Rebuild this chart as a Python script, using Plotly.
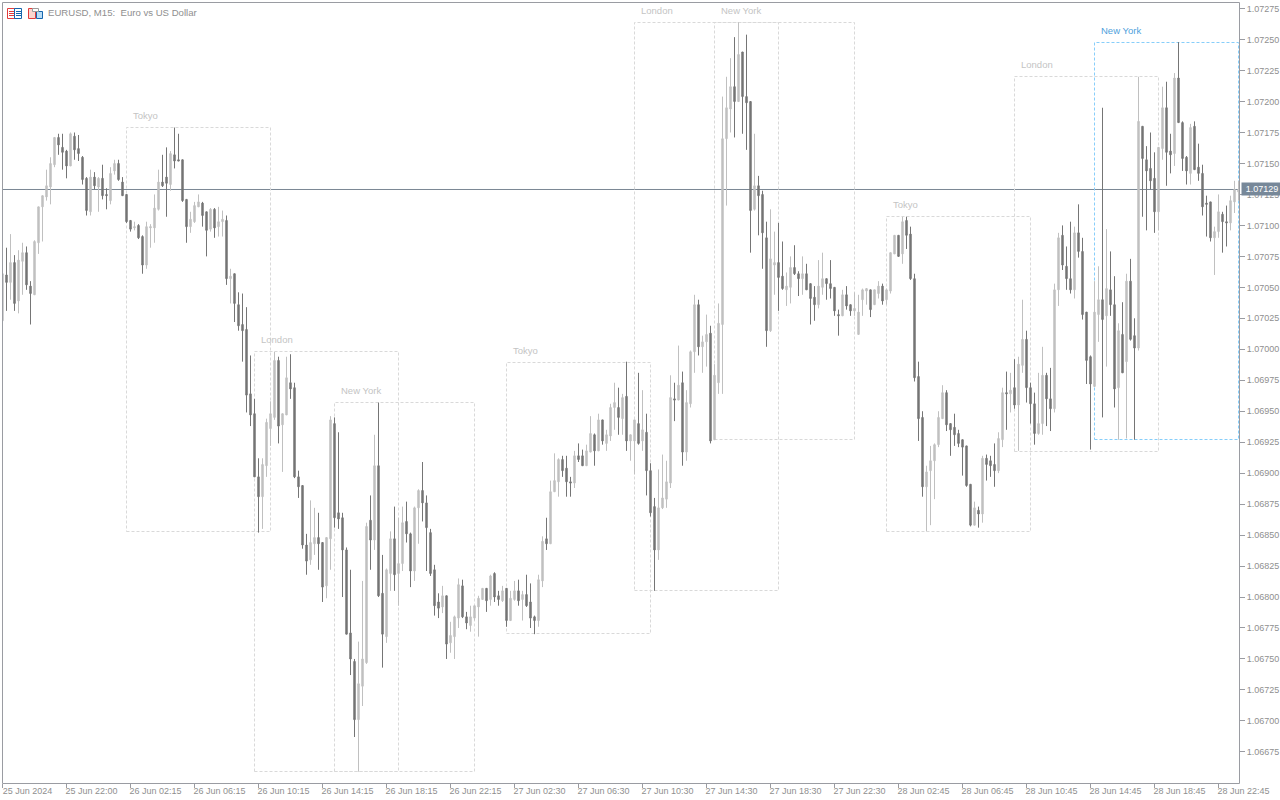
import plotly.graph_objects as go

# Prices are stored as points above 1.07000 (1 point = 0.00001)
open_pts = [
23,60,54,70,39,71,78,51,44,86,
115,123,131,149,171,163,160,148,172,162,
155,138,111,139,131,138,125,120,144,150,
135,125,104,98,100,91,68,98,98,113,
135,139,133,157,153,153,121,99,103,115,
118,111,97,113,99,103,104,57,61,36,
20,16,-36,-52,-103,-119,-94,-64,-55,-9,
-61,-53,-27,-31,-103,-110,-158,-170,-157,-152,
-156,-191,-153,-60,-132,-136,-162,-229,-252,-299,
-272,-253,-138,-154,-94,-197,-232,-181,-153,-181,
-173,-139,-149,-179,-128,-114,-124,-148,-178,-204,
-208,-199,-237,-232,-217,-191,-216,-223,-217,-208,
-202,-193,-202,-181,-199,-203,-193,-219,-202,-195,
-202,-198,-204,-216,-219,-187,-153,-157,-115,-107,
-89,-96,-107,-108,-86,-86,-94,-83,-69,-82,
-57,-76,-70,-47,-47,-56,-38,-74,-74,-60,
-74,-67,-98,-127,-162,-128,-121,-108,-40,-41,
-27,-83,-44,-2,36,2,6,13,-73,-27,
20,170,194,212,200,240,204,200,113,132,
125,90,15,68,70,59,48,50,66,61,
57,61,53,42,36,50,57,53,50,28,
27,44,36,31,12,40,47,48,36,45,
51,40,47,77,92,77,104,93,57,-22,
-55,-111,-98,-90,-77,-56,-35,-60,-63,-68,
-73,-78,-109,-142,-130,-133,-88,-90,-93,-98,
-73,-35,-36,-31,-45,-13,8,-31,-44,-68,
-60,-21,-40,-48,48,92,67,57,48,94,
79,30,-6,-30,28,40,27,48,36,-31,
12,-10,55,11,1,180,153,146,138,111,
162,195,160,158,219,183,155,142,180,147,
142,118,119,90,95,109,103,102,119,127]

high_pts = [
61,82,93,76,80,86,83,55,88,115,
124,145,155,171,174,174,161,175,175,173,
156,139,145,143,139,149,130,147,153,153,
139,125,104,103,101,92,103,101,125,145,
157,163,160,179,174,153,121,111,119,125,
119,111,114,114,115,112,108,65,61,46,
45,34,-5,-40,-88,-88,-56,-42,-2,-6,
-52,-6,-4,-27,-98,-110,-149,-122,-128,-132,
-156,-152,-54,-55,-67,-132,-160,-178,-250,-236,
-187,-140,-118,-69,-43,-166,-177,-147,-127,-136,
-127,-123,-148,-127,-113,-91,-118,-145,-174,-197,
-191,-199,-220,-215,-185,-186,-212,-207,-207,-199,
-193,-193,-182,-180,-195,-191,-193,-195,-187,-186,
-195,-182,-189,-215,-182,-151,-136,-106,-84,-88,
-86,-86,-103,-82,-76,-81,-77,-54,-68,-52,
-57,-65,-44,-27,-31,-36,-10,-69,-57,-19,
-33,-52,-92,-120,-97,-85,-90,-21,-27,3,
-18,-33,-1,44,40,11,28,19,-12,37,
204,220,235,252,264,240,254,200,174,140,
128,103,113,95,102,87,62,75,84,63,
75,69,53,51,72,78,57,72,50,32,
48,51,36,46,44,49,49,48,48,55,
53,49,78,92,92,107,107,99,61,-10,
-50,-94,-78,-76,-50,-29,-33,-60,-52,-65,
-73,-78,-109,-123,-127,-86,-85,-86,-76,-67,
-31,-18,-19,-8,-6,40,15,-27,-35,-19,
2,-19,-15,53,94,100,83,103,99,117,
90,30,-5,55,67,195,97,79,59,21,
38,61,73,25,220,180,164,175,159,163,
212,216,174,223,248,184,156,182,184,166,
149,124,119,99,125,111,116,124,136,136]

low_pts = [
6,31,40,31,29,44,48,20,44,77,
87,120,117,147,157,145,138,148,153,152,
133,108,108,129,111,121,113,117,141,136,
124,102,95,96,89,61,65,82,86,112,
131,107,128,146,152,119,86,94,102,115,
99,75,95,90,91,91,52,37,22,15,
-10,-51,-62,-103,-148,-145,-103,-78,-57,-76,
-99,-53,-40,-104,-120,-161,-182,-174,-166,-178,
-204,-201,-178,-144,-145,-200,-230,-263,-313,-341,
-288,-254,-178,-162,-200,-257,-237,-195,-195,-207,
-179,-156,-192,-187,-157,-139,-179,-183,-215,-217,
-213,-250,-245,-250,-225,-217,-226,-228,-219,-232,
-202,-212,-207,-204,-207,-204,-224,-219,-203,-207,
-219,-208,-225,-230,-224,-192,-162,-157,-115,-119,
-103,-119,-119,-112,-91,-94,-94,-83,-94,-82,
-77,-82,-74,-65,-69,-69,-82,-90,-101,-77,
-82,-118,-135,-195,-170,-129,-128,-112,-58,-41,
-94,-90,-47,-19,-5,-19,-14,-76,-73,-36,
-36,116,175,171,200,174,161,78,112,92,
65,2,14,44,31,48,35,37,60,43,
44,48,20,23,33,44,40,41,27,11,
27,32,27,27,12,27,36,26,36,41,
36,36,45,77,75,69,81,56,-26,-74,
-119,-147,-142,-121,-79,-56,-66,-86,-78,-79,
-102,-111,-143,-142,-144,-140,-106,-103,-111,-100,
-79,-65,-51,-48,-82,-19,-43,-60,-77,-69,
-69,-62,-66,-51,35,64,48,45,41,74,
24,-28,-81,-30,6,-55,-14,27,-47,-73,
-19,-72,7,-73,-1,107,96,129,94,96,
153,132,142,148,183,144,133,133,145,136,
108,91,87,60,90,78,83,96,110,120]

close_pts = [
61,54,70,37,72,78,52,45,87,115,
124,132,150,171,165,159,148,174,161,158,
137,112,139,132,138,124,124,142,150,137,
124,103,97,99,90,68,99,99,114,135,
132,134,158,152,152,120,99,105,116,119,
108,96,113,98,103,105,57,59,37,19,
15,-37,-53,-103,-119,-93,-59,-52,-9,-62,
-52,-23,-32,-103,-111,-158,-171,-156,-152,-157,
-192,-152,-57,-136,-137,-162,-230,-250,-299,-270,
-250,-143,-154,-94,-199,-230,-178,-153,-182,-173,
-140,-149,-179,-128,-114,-124,-144,-181,-207,-209,
-199,-238,-231,-216,-190,-216,-221,-216,-207,-201,
-193,-203,-183,-200,-202,-195,-219,-201,-195,-203,
-198,-207,-217,-219,-186,-155,-157,-115,-106,-89,
-98,-107,-108,-86,-89,-94,-82,-68,-82,-57,
-74,-69,-47,-43,-55,-39,-74,-69,-57,-76,
-65,-98,-132,-162,-128,-120,-107,-39,-41,-29,
-83,-43,-2,36,2,6,12,-74,-21,21,
170,195,212,200,238,204,199,112,132,124,
94,15,73,70,58,49,51,66,61,57,
61,48,41,36,51,57,53,49,31,27,
44,35,31,33,30,48,49,32,48,51,
39,48,78,92,75,103,92,57,-23,-56,
-111,-99,-90,-77,-55,-35,-61,-65,-69,-76,
-79,-110,-142,-128,-133,-88,-93,-94,-98,-72,
-35,-36,-33,-45,-12,8,-31,-44,-68,-60,
-21,-40,-48,48,90,68,57,48,94,79,
28,-9,-28,30,40,24,49,36,-32,15,
-19,55,8,1,184,154,144,136,111,163,
195,159,157,219,183,154,144,179,145,142,
115,117,90,95,111,103,102,120,129,129]

date_labels = ["25 Jun 2024","25 Jun 22:00","26 Jun 02:15","26 Jun 06:15","26 Jun 10:15",
               "26 Jun 14:15","26 Jun 18:15","26 Jun 22:15","27 Jun 02:30","27 Jun 06:30",
               "27 Jun 10:30","27 Jun 14:30","27 Jun 18:30","27 Jun 22:30","28 Jun 02:45",
               "28 Jun 06:45","28 Jun 10:45","28 Jun 14:45","28 Jun 18:45","28 Jun 22:45"]
price_ticks = [1.06675 + 0.00025 * k for k in range(25)]
last_price = 1.07129

session_names  = ["Tokyo","London","New York","Tokyo","London","New York","Tokyo","London","New York"]
session_start  = [31, 63, 83, 126, 158, 178, 221, 253, 273]
session_end    = [67, 99, 118, 162, 194, 213, 257, 289, 309]
session_high   = [179.04, -1.79, -42.96, -10.67, 263.81, 263.81, 107.19, 220.22, 247.66]
session_low    = [-147.11, -340.86, -340.86, -229.45, -194.74, -72.83, -147.11, -82.52, -72.83]

GRAY_TXT = "#8f8f8f"
FRAME = "#9a9ca2"
FONT = "Liberation Sans"
W, H = 1280, 800
L, R, T, B = 2, 41, 2, 17

def price(points):
    return [1.07 + p / 1e5 for p in points]

n = len(open_pts)
fig = go.Figure(go.Candlestick(
    x=list(range(n)),
    open=price(open_pts), high=price(high_pts), low=price(low_pts), close=price(close_pts),
    increasing=dict(line=dict(color="#c0c0c0", width=1), fillcolor="#c0c0c0"),
    decreasing=dict(line=dict(color="#757575", width=1), fillcolor="#757575"),
    whiskerwidth=0, showlegend=False, hoverinfo="x+y",
))

shapes = []
annotations = []
for k, name in enumerate(session_names):
    active = k == len(session_names) - 1
    col = "#87cefa" if active else "#d9d9d9"
    shapes.append(dict(type="rect", xref="x", yref="y", layer="below",
                       x0=session_start[k], x1=session_end[k],
                       y0=1.07 + session_low[k] / 1e5, y1=1.07 + session_high[k] / 1e5,
                       line=dict(color=col, width=1, dash="3px,2px")))
    annotations.append(dict(x=session_start[k], y=1.07 + session_high[k] / 1e5, xref="x", yref="y",
                            text=name, showarrow=False, xanchor="left", yanchor="middle",
                            xshift=4, yshift=12,
                            font=dict(family=FONT, size=9.5, color="#4f9fdc" if active else "#c4c4c4")))

shapes.append(dict(type="line", xref="paper", yref="y", layer="below", x0=0, x1=1,
                   y0=last_price, y1=last_price, line=dict(color="#7b8794", width=1)))
annotations.append(dict(x=1, y=last_price, xref="paper", yref="y", xanchor="left", yanchor="middle",
                        xshift=2, text="%.5f" % last_price, showarrow=False, bgcolor="#778899",
                        width=38, height=10, borderpad=1, align="center",
                        font=dict(family=FONT, size=9, color="#ffffff")))

# frame, toolbar-style icons and the title, placed in window pixels
def px_x(v): return (v - L) / (W - L - R)
def px_y(v): return 1 - (v - T) / (H - T - B)
def box(x0, y0, x1, y1, color, fill="rgba(0,0,0,0)"):
    return dict(type="rect", xref="paper", yref="paper", x0=px_x(x0), x1=px_x(x1), y0=px_y(y0), y1=px_y(y1),
                line=dict(color=color, width=1), fillcolor=fill)
def hline(x0, x1, y, color):
    return dict(type="line", xref="paper", yref="paper", x0=px_x(x0), x1=px_x(x1), y0=px_y(y), y1=px_y(y),
                line=dict(color=color, width=1))
shapes.append(box(2.5, 2.5, 1239.5, 783.5, FRAME))
annotations.append(dict(x=px_x(46), y=px_y(13), xref="paper", yref="paper",
                        text="EURUSD, M15:  Euro vs US Dollar", showarrow=False, xanchor="left",
                        yanchor="middle", font=dict(family=FONT, size=9.6, color=GRAY_TXT)))
RED, BLUE = "#e23b3b", "#1565ad"
shapes += [box(7.5, 8.5, 14.5, 18.5, RED), box(14.5, 8.5, 21.5, 18.5, BLUE)]
for yy in (11.5, 13.5, 15.5):
    shapes += [hline(9, 14, yy, RED), hline(16, 21, yy, BLUE)]
shapes += [box(28.5, 8.5, 35.5, 18.5, RED, "#fbd5cf"), box(36.5, 11.5, 42.5, 18.5, BLUE, "#b9dcf5"),
           box(32.5, 8.5, 38.5, 11.5, "#9a9a9a", "#ffffff")]

fig.update_layout(
    width=W, height=H, autosize=False,
    margin=dict(l=L, r=R, t=T, b=B, pad=0, autoexpand=False),
    paper_bgcolor="#ffffff", plot_bgcolor="#ffffff",
    shapes=shapes, annotations=annotations,
    boxgap=0.5, showlegend=False,
    font=dict(family=FONT, size=9, color=GRAY_TXT),
    xaxis=dict(range=[-0.125, 309.125], rangeslider=dict(visible=False), showgrid=False, zeroline=False,
               automargin=False, showline=False,
               tickmode="array", tickvals=[16 * k for k in range(len(date_labels))], ticktext=date_labels,
               ticks="outside", ticklen=4, tickcolor=FRAME, tickwidth=1, tickangle=0,
               ticklabelshift=25, ticklabelstandoff=-5,
               tickfont=dict(family=FONT, size=9, color=GRAY_TXT)),
    yaxis=dict(range=[1.07 - 350.14 / 1e5, 1.07 + 280.36 / 1e5], side="right", showgrid=False, zeroline=False,
               automargin=False, showline=False,
               tickmode="array", tickvals=price_ticks, ticktext=["%.5f" % t for t in price_ticks],
               ticks="outside", ticklen=5, tickcolor=FRAME, tickwidth=1,
               tickfont=dict(family=FONT, size=9, color=GRAY_TXT)),
)

fig.write_html("out.html", config=dict(displayModeBar=False),
               post_script="document.body.style.margin='0';document.documentElement.style.overflow='hidden';")
